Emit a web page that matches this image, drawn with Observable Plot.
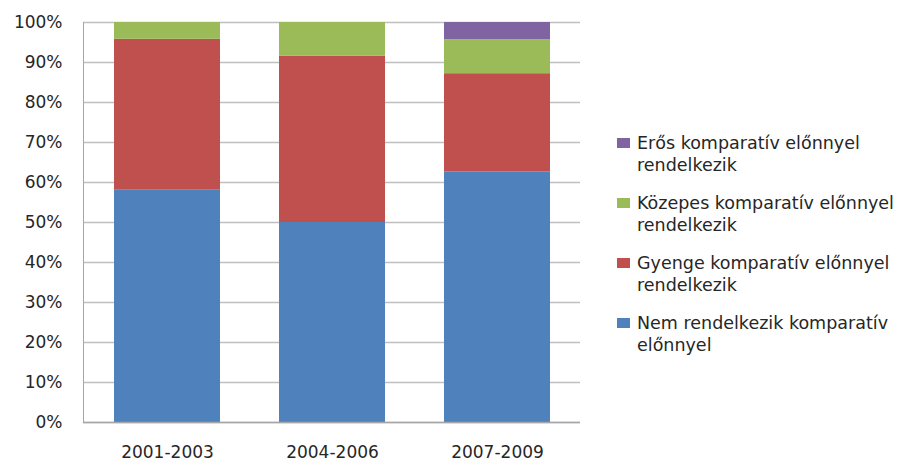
<!DOCTYPE html>
<html><head><meta charset="utf-8">
<script src="https://cdn.jsdelivr.net/npm/d3@7"></script>
<script src="https://cdn.jsdelivr.net/npm/@observablehq/plot@0.6"></script>
<style>
body{margin:0;background:#fff;}
#wrap{position:relative;width:907px;height:461px;font-family:"DejaVu Sans",sans-serif;}
#legend{position:absolute;left:617px;top:132px;color:#262626;font-size:17.5px;line-height:22px;}
.item{position:relative;padding-left:20px;margin-bottom:16px;white-space:nowrap;}
.sw{position:absolute;left:0;top:6px;width:13px;height:10px;}
</style></head>
<body><div id="wrap"><div id="legend"></div></div>
<script>
const periods = ["2001-2003","2004-2006","2007-2009"];
const series = ["Nem rendelkezik komparatív előnnyel","Gyenge komparatív előnnyel rendelkezik","Közepes komparatív előnnyel rendelkezik","Erős komparatív előnnyel rendelkezik"];
const colors = ["#4F81BD","#C0504D","#9BBB59","#8064A2"];
const nem = [58.2, 50.0, 62.6];
const gyenge = [37.6, 41.6, 24.6];
const kozepes = [4.2, 8.4, 8.5];
const eros = [0, 0, 4.3];
const yTicks = [0,10,20,30,40,50,60,70,80,90,100];

const vals = [nem, gyenge, kozepes, eros];
const data = [];
series.forEach((s,i)=>periods.forEach((p,j)=>data.push({period:p, series:s, value:vals[i][j]/100})));

const chart = Plot.plot({
  width: 907, height: 461,
  marginLeft: 83, marginTop: 22, marginBottom: 39, marginRight: 327,
  style: {fontFamily: "'DejaVu Sans', sans-serif", fontSize: "17px", color: "#262626", overflow: "visible"},
  x: {domain: periods, paddingInner: 0.36, paddingOuter: 0.18, label: null},
  y: {domain: [0,1], label: null},
  color: {domain: series, range: colors},
  marks: [
    Plot.gridY(yTicks.map(d=>d/100), {stroke: "#BFBFBF", strokeOpacity: 1, strokeWidth: 1.3}),
    Plot.frame({anchor: "left", stroke: "#A6A6A6"}),
    Plot.barY(data, Plot.stackY({order: series}, {x: "period", y: "value", fill: "series"})),
    Plot.ruleY([0], {stroke: "#A6A6A6", strokeWidth: 1.3}),
    Plot.axisY({ticks: yTicks.map(d=>d/100), tickFormat: d => Math.round(d*100) + "%", tickSize: 0, tickPadding: 21, fontSize: 17, label: null}),
    Plot.axisX({tickSize: 0, tickPadding: 23, fontSize: 17, label: null})
  ]
});
document.getElementById("wrap").prepend(chart);
chart.style.position = "absolute"; chart.style.left = "0"; chart.style.top = "0";

const lg = document.getElementById("legend");
const legendLines = [
  ["Erős komparatív előnnyel","rendelkezik"],
  ["Közepes komparatív előnnyel","rendelkezik"],
  ["Gyenge komparatív előnnyel","rendelkezik"],
  ["Nem rendelkezik komparatív","előnnyel"]
];
const legendColors = [colors[3], colors[2], colors[1], colors[0]];
legendLines.forEach((ls,i)=>{
  const d = document.createElement("div"); d.className = "item";
  d.innerHTML = `<span class="sw" style="background:${legendColors[i]}"></span>${ls[0]}<br>${ls[1]}`;
  lg.appendChild(d);
});
</script></body></html>
